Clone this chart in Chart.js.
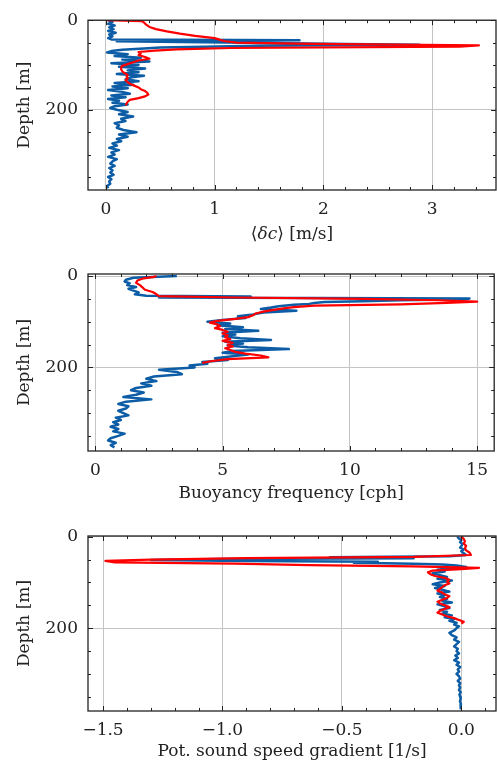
<!DOCTYPE html>
<html>
<head>
<meta charset="utf-8">
<script src="https://cdn.jsdelivr.net/npm/chart.js@4.4.0/dist/chart.umd.min.js"></script>
<style>
  html, body { margin: 0; padding: 0; background: #fff; }
  canvas { position: absolute; left: 0; }
</style>
</head>
<body>
<canvas id="c1" width="497" height="250" style="top:0px"></canvas>
<canvas id="c2" width="497" height="260" style="top:250px"></canvas>
<canvas id="c3" width="497" height="254" style="top:510px"></canvas>
<script>
// depth grids [m]
const blueDepth = [0, 4, 8, 12, 16, 20, 24, 28, 32, 36, 40,
  43, 45, 47, 49, 51, 53, 55, 57, 59, 61, 63, 66, 69, 72,
  76, 80, 84, 88, 92, 96, 100, 104, 108, 112, 116, 120, 124, 128, 132, 136, 140,
  144, 148, 152, 156, 160, 164, 168, 172, 176, 180, 184, 188, 192, 196, 200,
  205, 210, 215, 220, 225, 230, 235, 240, 245, 250, 255, 260, 265, 270, 275, 280,
  285, 290, 295, 300, 305, 310, 315, 320, 325, 330, 335, 340, 345, 350, 355, 360,
  365, 370, 375];
const redDepth = [0, 2, 5, 10, 15, 20, 25, 30, 35, 40,
  44, 47, 50, 53, 56, 59, 62, 65, 68, 71, 74,
  78, 82, 86, 90, 94, 98, 102, 106, 110, 114, 118, 122, 126, 130, 134, 138,
  142, 146, 150, 154, 158, 162, 166, 170, 174, 178, 182, 186, 190];
const depthTicks = [0, 200];

// <dc> [m/s]
const dcBlue = [0.02, 0.06, 0.02, 0.08, 0.03, 0.07, 0.02, 0.09, 0.03, 0.06, 0.02,
  0.05, 1.78, 0.1, 0.9, 1.5, 2.2, 2.88, 1.4, 0.9, 0.5, 0.35, 0.15, 0.05, 0.01,
  0.2, 0.08, 0.32, 0.15, 0.4, 0.05, 0.3, 0.12, 0.36, 0.2, 0.3, 0.1, 0.35, 0.22, 0.18, 0.3, 0.08,
  0.25, 0.06, 0.2, 0.02, 0.15, 0.22, 0.05, 0.18, 0.02, 0.12, 0.06, 0.2, 0.08, 0.04, 0.1,
  0.2, 0.12, 0.25, 0.14, 0.18, 0.08, 0.12, 0.1, 0.16, 0.28, 0.12, 0.2, 0.1, 0.14, 0.06, 0.1,
  0.03, 0.12, 0.05, 0.08, 0.02, 0.1, 0.06, 0.04, 0.08, 0.03, 0.06, 0.04, 0.07, 0.02, 0.05, 0.03,
  0.04, 0.01, 0.02];
const dcRed = [0, 0.33, 0.35, 0.37, 0.4, 0.46, 0.56, 0.68, 0.82, 1.0,
  1.05, 1.1, 1.2, 1.9, 3.43, 3.25, 1.15, 0.65, 0.45, 0.3, 0.32,
  0.3, 0.36, 0.4, 0.3, 0.25, 0.2, 0.15, 0.14, 0.14, 0.15, 0.17, 0.2, 0.19, 0.2, 0.18, 0.2,
  0.22, 0.26, 0.3, 0.32, 0.36, 0.38, 0.39, 0.36, 0.3, 0.22, 0.2, 0.19, 0.18];
const dcTicks = [0, 1, 2, 3];

// buoyancy frequency [cph]
const nBlue = [3.2, 1.5, 1.2, 1.15, 1.35, 1.25, 1.6, 1.3, 1.5, 1.7, 1.55,
  2.0, 6.1, 2.5, 14.7, 14.5, 12.0, 10.5, 9.0, 8.6, 8.4, 7.8, 7.2, 6.9, 6.5,
  7.9, 6.6, 6.2, 5.6, 5.9, 5.0, 4.4, 5.3, 4.8, 5.8, 5.1, 6.4, 5.0, 5.5, 5.0, 5.7, 6.9,
  5.1, 5.8, 5.2, 6.0, 7.6, 5.4, 5.0, 6.0, 5.3, 4.7, 5.2, 4.2, 4.4, 3.7, 3.9,
  2.5, 3.2, 3.4, 2.3, 2.0, 2.4, 1.8, 2.2, 1.6, 1.4, 1.9, 1.6, 1.1, 2.2, 1.2, 0.9,
  1.3, 1.2, 0.9, 1.1, 1.3, 0.8, 1.0, 0.7, 0.9, 0.6, 0.9, 0.7, 1.15, 0.9, 0.6, 0.5,
  0.8, 0.6, 0.75];
const nRed = [2.4, 2.3, 1.9, 1.65, 1.6, 1.75, 1.85, 1.95, 2.25, 2.4,
  2.5, 5.5, 10.5, 13.5, 15.0, 13.8, 12.0, 8.6, 7.8, 7.4, 7.0,
  6.6, 6.3, 6.2, 6.0, 5.5, 4.8, 4.5, 4.8, 4.9, 4.7, 5.0, 5.2, 5.0, 5.2, 5.1, 5.3,
  5.0, 5.4, 5.2, 5.4, 5.1, 5.3, 5.5, 5.9, 6.5, 6.8, 5.2, 4.6, 4.2];
const nTicks = [0, 5, 10, 15];

// potential sound speed gradient [1/s]
const gradBlue = [-0.017, -0.01, 0.0, -0.005, 0.005, 0.0, -0.005, 0.01, 0.0, 0.01, 0.02,
  -0.05, -0.55, -0.2, -1.0, -1.3, -0.9, -0.35, -0.45, -0.2, -0.08, -0.02, 0.02, -0.05, -0.1,
  -0.07, -0.12, -0.09, -0.06, -0.1, -0.04, -0.09, -0.12, -0.07, -0.11, -0.08, -0.05, -0.1, -0.07, -0.09, -0.06, -0.08,
  -0.04, -0.1, -0.07, -0.05, -0.09, -0.06, -0.08, -0.04, -0.07, -0.03, -0.05, -0.02, -0.03, -0.01, -0.02,
  -0.03, -0.05, -0.04, -0.02, -0.03, -0.01, -0.02, -0.03, -0.015, -0.02, -0.01, -0.025, -0.015, -0.03, -0.01, -0.02,
  -0.005, -0.015, -0.01, -0.02, -0.01, -0.005, -0.015, -0.005, -0.01, -0.005, -0.01, -0.003, -0.008, -0.005, -0.003, -0.006,
  -0.002, -0.004, -0.002];
const gradRed = [-0.003, 0.005, 0.01, 0.015, 0.01, 0.02, 0.015, 0.02, 0.035, 0.04,
  -0.2, -0.9, -1.3, -1.49, -1.45, -0.95, -0.64, -0.2, 0.074, 0.0, -0.12,
  -0.14, -0.13, -0.11, -0.07, -0.05, -0.06, -0.05, -0.07, -0.08, -0.09, -0.1, -0.08, -0.07, -0.05, -0.06, -0.08,
  -0.1, -0.09, -0.07, -0.05, -0.07, -0.09, -0.1, -0.08, -0.06, -0.03, -0.01, 0.01, 0.0];
const gradTicks = [-1.5, -1.0, -0.5, 0.0];

const BLUE = '#0C5DA5';
const RED = '#FF0000';
const FONT = 'DejaVu Serif';
const FS = 17;

function pts(vals, depths) {
  return vals.map((v, i) => ({ x: v, y: depths[i] }));
}

// inward ticks on all four sides plus the frame
const frameTicks = {
  id: 'frameTicks',
  afterDraw(chart, args, o) {
    const { ctx, chartArea: a, scales } = chart;
    const sx = scales.x, sy = scales.y;
    ctx.save();
    ctx.strokeStyle = '#222';
    ctx.lineWidth = 1;
    ctx.beginPath();
    const marks = (sc, step) => {
      const out = [];
      const lo = Math.min(sc.min, sc.max), hi = Math.max(sc.min, sc.max);
      for (let v = Math.ceil(lo / step - 1e-9) * step; v <= hi + 1e-9; v += step) out.push(v);
      return out;
    };
    const doX = (step, len) => marks(sx, step).forEach(v => {
      const p = Math.round(sx.getPixelForValue(v)) + 0.5;
      ctx.moveTo(p, a.bottom); ctx.lineTo(p, a.bottom - len);
      ctx.moveTo(p, a.top); ctx.lineTo(p, a.top + len);
    });
    const doY = (step, len) => marks(sy, step).forEach(v => {
      const p = Math.round(sy.getPixelForValue(v)) + 0.5;
      ctx.moveTo(a.left, p); ctx.lineTo(a.left + len, p);
      ctx.moveTo(a.right, p); ctx.lineTo(a.right - len, p);
    });
    doX(o.xMinor, 3); doX(o.xMajor, 5);
    doY(o.yMinor, 3); doY(o.yMajor, 5);
    ctx.stroke();
    ctx.lineWidth = 1.3;
    ctx.strokeRect(a.left, a.top, a.right - a.left, a.bottom - a.top);

    // x title made of plain / italic pieces (for the <δc> label)
    if (o.rich) {
      const parts = o.rich.map(([t, it]) => {
        ctx.font = (it ? 'italic ' : '') + FS + 'px "' + FONT + '"';
        return { t, it, w: ctx.measureText(t).width };
      });
      const total = parts.reduce((s, p) => s + p.w, 0);
      let x = (a.left + a.right) / 2 - total / 2;
      ctx.fillStyle = '#222';
      ctx.textBaseline = 'middle';
      ctx.textAlign = 'left';
      parts.forEach(p => {
        ctx.font = (p.it ? 'italic ' : '') + FS + 'px "' + FONT + '"';
        ctx.fillText(p.t, x, o.richY);
        x += p.w;
      });
    }
    ctx.restore();
  }
};

function makePanel(id, cfg) {
  const canvasH = document.getElementById(id).height;
  return new Chart(document.getElementById(id), {
    type: 'scatter',
    data: {
      datasets: [
        { data: pts(cfg.red, redDepth), borderColor: RED, borderWidth: 2.2 },
        { data: pts(cfg.blue, blueDepth), borderColor: BLUE, borderWidth: 2.5 }
      ].map(d => Object.assign(d, { showLine: true, pointRadius: 0, tension: 0, borderJoinStyle: 'round', fill: false }))
    },
    options: {
      responsive: false,
      animation: false,
      layout: { padding: { top: cfg.areaTop, right: 1, left: 0, bottom: 0 } },
      plugins: {
        legend: { display: false },
        tooltip: { enabled: false },
        frameTicks: cfg.ticks
      },
      scales: {
        x: {
          type: 'linear', min: cfg.xMin, max: cfg.xMax,
          afterFit: s => { s.height = canvasH - cfg.areaBottom; },
          afterBuildTicks: s => { s.ticks = cfg.xTicks.map(v => ({ value: v })); },
          ticks: {
            padding: 9, color: '#222', font: { family: FONT, size: FS },
            callback: cfg.xFmt
          },
          grid: { drawTicks: false, color: '#c4c4c4', lineWidth: 1 },
          border: { display: false },
          title: { display: !cfg.ticks.rich, text: cfg.title, color: '#222', font: { family: FONT, size: FS }, padding: { top: 0, bottom: cfg.titlePad } }
        },
        y: {
          type: 'linear', reverse: true, min: cfg.yMin, max: cfg.yMax,
          afterFit: s => { s.width = 88; },
          afterBuildTicks: s => { s.ticks = depthTicks.map(v => ({ value: v })); },
          ticks: {
            padding: 10, color: '#222', font: { family: FONT, size: FS }
          },
          grid: { drawTicks: false, color: '#c4c4c4', lineWidth: 1 },
          border: { display: false },
          title: { display: true, text: 'Depth [m]', color: '#222', font: { family: FONT, size: FS }, padding: { top: 14, bottom: 0 } }
        }
      }
    },
    plugins: [frameTicks]
  });
}

const intFmt = v => String(v);
const decFmt = v => v.toFixed(1).replace('-', '\u2212');

makePanel('c1', {
  blue: dcBlue, red: dcRed, areaTop: 14, areaBottom: 190, titlePad: 5,
  xMin: -0.165, xMax: 3.587, yMin: 0, yMax: 379, xTicks: dcTicks,
  xFmt: intFmt, title: '\u27E8\u03B4c\u27E9 [m/s]',
  ticks: { xMajor: 1, xMinor: 0.2, yMajor: 200, yMinor: 50,
    rich: [['\u27E8', false], ['\u03B4c', true], ['\u27E9 [m/s]', false]], richY: 235 }
});
makePanel('c2', {
  blue: nBlue, red: nRed, areaTop: 24, areaBottom: 201, titlePad: 6,
  xMin: -0.29, xMax: 15.67, yMin: -4.4, yMax: 383, xTicks: nTicks,
  xFmt: intFmt, title: 'Buoyancy frequency [cph]',
  ticks: { xMajor: 5, xMinor: 1, yMajor: 200, yMinor: 50 }
});
makePanel('c3', {
  blue: gradBlue, red: gradRed, areaTop: 26, areaBottom: 201, titlePad: 2,
  xMin: -1.563, xMax: 0.145, yMin: -1.5, yMax: 381, xTicks: gradTicks,
  xFmt: decFmt, title: 'Pot. sound speed gradient [1/s]',
  ticks: { xMajor: 0.5, xMinor: 0.1, yMajor: 200, yMinor: 50 }
});
</script>
</body>
</html>
